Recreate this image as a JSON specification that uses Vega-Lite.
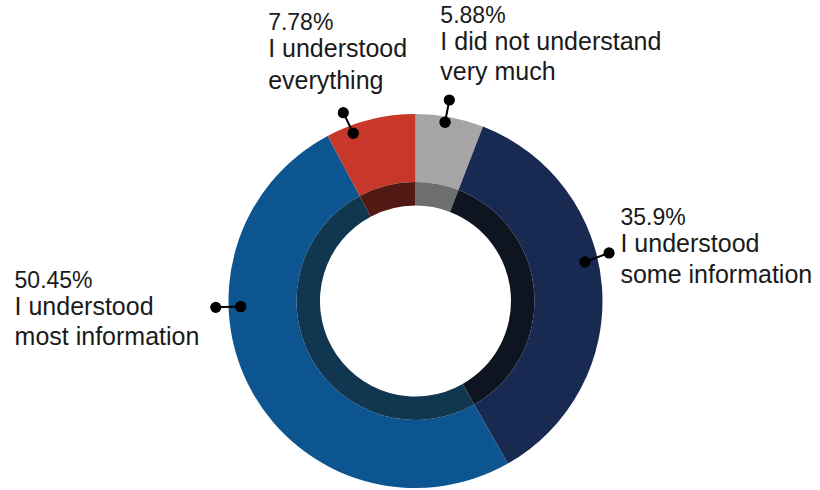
{
  "$schema": "https://vega.github.io/schema/vega-lite/v6.json",
  "width": 820,
  "height": 490,
  "padding": 0,
  "autosize": {"type": "fit", "contains": "padding"},
  "background": "#ffffff",
  "config": {"view": {"stroke": null}},
  "datasets": {
    "slices": [
      {"response": "I did not understand very much", "pct": 5.88, "order": 1},
      {"response": "I understood some information", "pct": 35.9, "order": 2},
      {"response": "I understood most information", "pct": 50.45, "order": 3},
      {"response": "I understood everything", "pct": 7.78, "order": 4}
    ],
    "leaders": [
      {"response": "I understood everything", "x": -33.3, "y": 89.7, "x2": -38.6, "y2": 100.7},
      {"response": "I did not understand very much", "x": 15.8, "y": 95.6, "x2": 18.1, "y2": 107.5},
      {"response": "I understood some information", "x": 90.6, "y": 20.9, "x2": 103.5, "y2": 25.7},
      {"response": "I understood most information", "x": -93.5, "y": -3.0, "x2": -106.8, "y2": -3.4}
    ],
    "percents": [
      {"text": "7.78%", "x": -78.8, "y": 145.0},
      {"text": "5.88%", "x": 13.3, "y": 148.6},
      {"text": "35.9%", "x": 109.6, "y": 40.7},
      {"text": "50.45%", "x": -214.4, "y": 6.9}
    ],
    "lines": [
      {"text": "I understood", "x": -78.8, "y": 130.3},
      {"text": "everything", "x": -78.8, "y": 113.4},
      {"text": "I did not understand", "x": 13.3, "y": 134.2},
      {"text": "very much", "x": 13.3, "y": 118.2},
      {"text": "I understood", "x": 109.6, "y": 26.0},
      {"text": "some information", "x": 109.6, "y": 9.8},
      {"text": "I understood", "x": -214.4, "y": -7.5},
      {"text": "most information", "x": -214.4, "y": -23.5}
    ]
  },
  "layer": [
    {
      "data": {"name": "slices"},
      "mark": {"type": "arc", "innerRadius": 119, "outerRadius": 187},
      "encoding": {
        "theta": {"field": "pct", "type": "quantitative", "stack": true},
        "order": {"field": "order", "type": "quantitative"},
        "color": {
          "field": "response", "type": "nominal", "legend": null,
          "scale": {
            "domain": ["I did not understand very much", "I understood some information", "I understood most information", "I understood everything"],
            "range": ["#a5a5a5", "#182a51", "#0d5591", "#c7372a"]
          }
        },
        "x": {"datum": 0, "type": "quantitative", "scale": {"domain": [-222.19, 216.31], "nice": false, "zero": false}, "axis": null},
        "y": {"datum": 0, "type": "quantitative", "scale": {"domain": [-101.07, 160.96], "nice": false, "zero": false}, "axis": null}
      }
    },
    {
      "data": {"name": "slices"},
      "mark": {"type": "arc", "innerRadius": 95.5, "outerRadius": 119},
      "encoding": {
        "theta": {"field": "pct", "type": "quantitative", "stack": true},
        "order": {"field": "order", "type": "quantitative"},
        "color": {
          "field": "response", "type": "nominal", "legend": null,
          "scale": {
            "domain": ["I did not understand very much", "I understood some information", "I understood most information", "I understood everything"],
            "range": ["#6d6f6e", "#0e1520", "#10374f", "#521814"]
          }
        },
        "x": {"datum": 0, "type": "quantitative", "scale": {"domain": [-222.19, 216.31], "nice": false, "zero": false}, "axis": null},
        "y": {"datum": 0, "type": "quantitative", "scale": {"domain": [-101.07, 160.96], "nice": false, "zero": false}, "axis": null}
      }
    },
    {
      "data": {"name": "leaders"},
      "mark": {"type": "rule", "color": "#000000", "strokeWidth": 2},
      "encoding": {
        "x": {"field": "x", "type": "quantitative", "axis": null},
        "y": {"field": "y", "type": "quantitative", "axis": null},
        "x2": {"field": "x2"},
        "y2": {"field": "y2"}
      }
    },
    {
      "data": {"name": "leaders"},
      "mark": {"type": "circle", "color": "#000000", "opacity": 1, "size": 130},
      "encoding": {
        "x": {"field": "x", "type": "quantitative", "axis": null},
        "y": {"field": "y", "type": "quantitative", "axis": null}
      }
    },
    {
      "data": {"name": "leaders"},
      "mark": {"type": "circle", "color": "#000000", "opacity": 1, "size": 125},
      "encoding": {
        "x": {"field": "x2", "type": "quantitative", "axis": null},
        "y": {"field": "y2", "type": "quantitative", "axis": null}
      }
    },
    {
      "data": {"name": "percents"},
      "mark": {"type": "text", "align": "left", "baseline": "alphabetic", "font": "Liberation Sans", "fontSize": 23, "color": "#1a1a1a"},
      "encoding": {
        "x": {"field": "x", "type": "quantitative", "axis": null},
        "y": {"field": "y", "type": "quantitative", "axis": null},
        "text": {"field": "text", "type": "nominal"}
      }
    },
    {
      "data": {"name": "lines"},
      "mark": {"type": "text", "align": "left", "baseline": "alphabetic", "font": "Liberation Sans", "fontSize": 25, "color": "#1a1a1a"},
      "encoding": {
        "x": {"field": "x", "type": "quantitative", "axis": null},
        "y": {"field": "y", "type": "quantitative", "axis": null},
        "text": {"field": "text", "type": "nominal"}
      }
    }
  ],
  "resolve": {"scale": {"color": "independent"}}
}
